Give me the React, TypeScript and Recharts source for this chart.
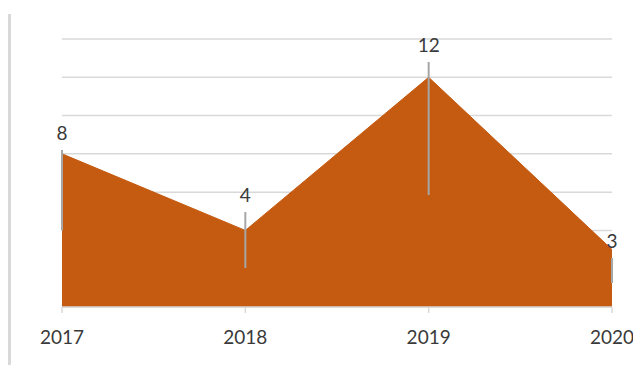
import React from 'react';
import { ComposedChart, Area, Line, XAxis, YAxis, CartesianGrid, LabelList, ErrorBar } from 'recharts';

const years = ['2017', '2018', '2019', '2020'];
const values = [8, 4, 12, 3];
const leaderLow = [4.0, 1.96, 6.15, 1.75];
const leaderHigh = [0.2, 0.96, 0.8, -0.44];
const yTicks = [0, 2, 4, 6, 8, 10, 12, 14];

const data = years.map((y, i) => ({
  year: y,
  value: values[i],
  leader: [leaderLow[i], leaderHigh[i]],
  labelPos: values[i] + leaderHigh[i],
}));

const font = 'Lato, "Open Sans", sans-serif';

export default function App() {
  return (
    <div style={{ marginTop: 6, borderLeft: '3px solid #d9d9d9', height: 351, width: 630 }}>
      <ComposedChart width={630} height={351} data={data} margin={{ top: 25, right: 29, left: 51, bottom: 28 }}>
        <CartesianGrid horizontal vertical={false} stroke="#d9d9d9" strokeWidth={1.5} />
        <XAxis
          dataKey="year"
          axisLine={{ stroke: '#d9d9d9', strokeWidth: 1.5 }}
          tickLine={{ stroke: '#d9d9d9', strokeWidth: 1.5 }}
          tickSize={6}
          tickMargin={18}
          height={30}
          interval={0}
          padding={{ left: 0, right: 0 }}
          tick={{ fill: '#3a3a3a', fontSize: 19, fontFamily: font }}
        />
        <YAxis hide domain={[0, 14]} ticks={yTicks} />
        <Area type="linear" dataKey="value" fill="#C55A11" fillOpacity={1} stroke="#C55A11" strokeWidth={1} isAnimationActive={false} dot={false} activeDot={false} />
        <Line type="linear" dataKey="value" stroke="none" dot={false} activeDot={false} isAnimationActive={false}>
          <ErrorBar dataKey="leader" width={0} stroke="#a6a6a6" strokeWidth={2} direction="y" />
        </Line>
        <Line type="linear" dataKey="labelPos" stroke="none" dot={false} activeDot={false} isAnimationActive={false}>
          <LabelList dataKey="value" position="top" offset={10} fill="#3a3a3a" fontSize={19} fontFamily={font} />
        </Line>
      </ComposedChart>
    </div>
  );
}
